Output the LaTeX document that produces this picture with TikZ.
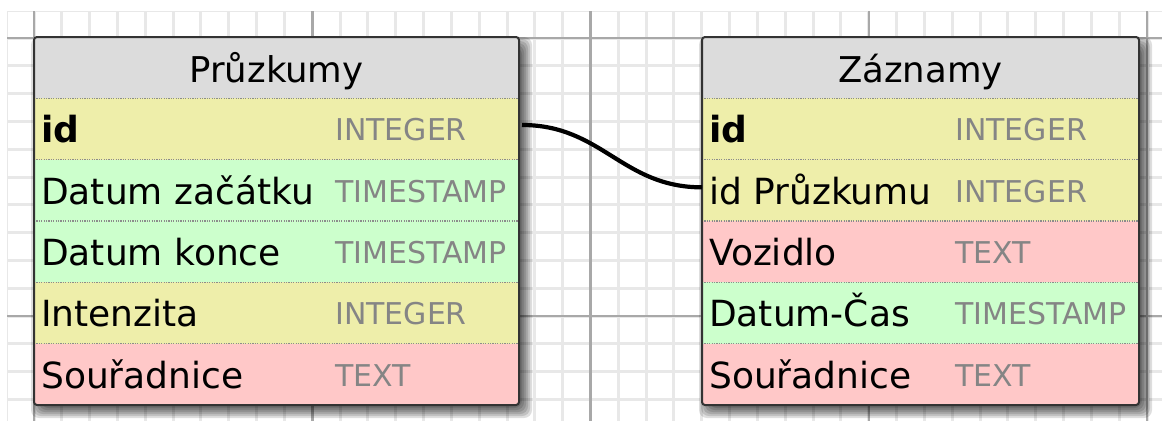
\documentclass[tikz,border=0pt]{standalone}
\usepackage{fontspec}
\setmainfont{DejaVu Sans}
\usetikzlibrary{calc}

\definecolor{intcol}{HTML}{EEEEAA}
\definecolor{timecol}{HTML}{CCFFCC}
\definecolor{textcol}{HTML}{FFC8C8}
\definecolor{headcol}{HTML}{DCDCDC}
\definecolor{gridminor}{HTML}{E8E8E8}
\definecolor{gridmajor}{HTML}{A8A8A8}
\definecolor{typegray}{HTML}{858585}
\definecolor{framecol}{HTML}{333333}
\definecolor{sepcol}{HTML}{8C8C8C}

\tikzset{
  rowbox/.style={draw=none, inner sep=0pt, outer sep=0pt,
    minimum height=61.33pt, anchor=north west},
  leftrow/.style={rowbox, minimum width=485pt},
  rightrow/.style={rowbox, minimum width=437pt},
  fieldname/.style={anchor=base west, inner sep=0pt,
    font=\fontsize{36}{40}\selectfont, text=black},
  fieldtype/.style={anchor=base west, inner sep=0pt,
    font=\fontsize{30}{34}\selectfont, text=typegray},
  titletext/.style={anchor=base, inner sep=0pt,
    font=\fontsize{35.5}{40}\selectfont, text=black},
  rowsep/.style={draw=sepcol, line width=1.2pt, dash pattern=on 1.2pt off 1.2pt},
  frame/.style={draw=framecol, line width=2pt, rounded corners=3pt},
  minorline/.style={draw=gridminor, line width=3pt},
  majorline/.style={draw=gridmajor, line width=2.5pt},
  link/.style={draw=black, line width=4.2pt},
}

\begin{document}
\begin{tikzpicture}[x=1pt, y=-1pt]
  \useasboundingbox (0,0) rectangle (1162,421);
  \fill[white] (0,0) rectangle (1162,421);

  % background grid
  \begin{scope}
    \clip (7,11) rectangle (1162,421);
    \foreach \k in {-1,...,41}
      \draw[minorline] ({34+27.825*\k},11) -- ++(0,410);
    \foreach \k in {-1,...,14}
      \draw[minorline] (7,{38+27.8*\k}) -- ++(1155,0);
    \foreach \m in {0,...,4}
      \draw[majorline] ({34+278.25*\m},11) -- ++(0,410);
    \foreach \m in {0,1}
      \draw[majorline] (7,{38+278*\m}) -- ++(1155,0);
  \end{scope}

  % soft shadows under both tables
  \foreach \xa/\xb in {34/519, 702/1139} {
    \foreach \e in {-8,-6,...,8}
      \fill[black, opacity=0.13, rounded corners=8pt]
        ({\xa+5-\e},{37+8-\e}) rectangle ({\xb+5+\e},{405+5+\e});
  }

  % table "Průzkumy"
  \fill[headcol, rounded corners=3pt] (34,37) rectangle (519,110);
  \node[titletext] (ptitle) at (276.5,82) {Průzkumy};
  \node[leftrow, fill=intcol]  (p1) at (34,98.33)  {};
  \node[leftrow, fill=timecol] (p2) at (34,159.67) {};
  \node[leftrow, fill=timecol] (p3) at (34,221)    {};
  \node[leftrow, fill=intcol]  (p4) at (34,282.33) {};
  \node[leftrow, fill=textcol] (p5) at (34,343.67) {};
  \foreach \r/\n/\t in {p1/{\bfseries id}/INTEGER, p2/Datum začátku/TIMESTAMP,
      p3/Datum konce/TIMESTAMP, p4/Intenzita/INTEGER, p5/Souřadnice/TEXT} {
    \node[fieldname] (\r n) at ($(\r.north west)+(7,44.5)$) {\n};
    \node[fieldtype] (\r t) at ($(\r.north west)+(301,42.5)$) {\t};
    \draw[rowsep] (\r.north west) -- (\r.north east);
  }
  \draw[frame] (34,37) rectangle (519,405);

  % table "Záznamy"
  \fill[headcol, rounded corners=3pt] (702,37) rectangle (1139,110);
  \node[titletext] (ztitle) at (920.5,82) {Záznamy};
  \node[rightrow, fill=intcol]  (z1) at (702,98.33)  {};
  \node[rightrow, fill=intcol]  (z2) at (702,159.67) {};
  \node[rightrow, fill=textcol] (z3) at (702,221)    {};
  \node[rightrow, fill=timecol] (z4) at (702,282.33) {};
  \node[rightrow, fill=textcol] (z5) at (702,343.67) {};
  \foreach \r/\n/\t in {z1/{\bfseries id}/INTEGER, z2/id Průzkumu/INTEGER,
      z3/Vozidlo/TEXT, z4/Datum-Čas/TIMESTAMP, z5/Souřadnice/TEXT} {
    \node[fieldname] (\r n) at ($(\r.north west)+(7,44.5)$) {\n};
    \node[fieldtype] (\r t) at ($(\r.north west)+(253,42.5)$) {\t};
    \draw[rowsep] (\r.north west) -- (\r.north east);
  }
  \draw[frame] (702,37) rectangle (1139,405);

  % relation: Průzkumy.id -> Záznamy.id Průzkumu
  \coordinate (linkstart) at ([xshift=3pt, yshift=4pt]p1.east);
  \coordinate (linkend) at ([yshift=3pt]z2.west);
  \draw[link] (linkstart) .. controls +(80,0) and +(-80,0) .. (linkend);
\end{tikzpicture}
\end{document}
